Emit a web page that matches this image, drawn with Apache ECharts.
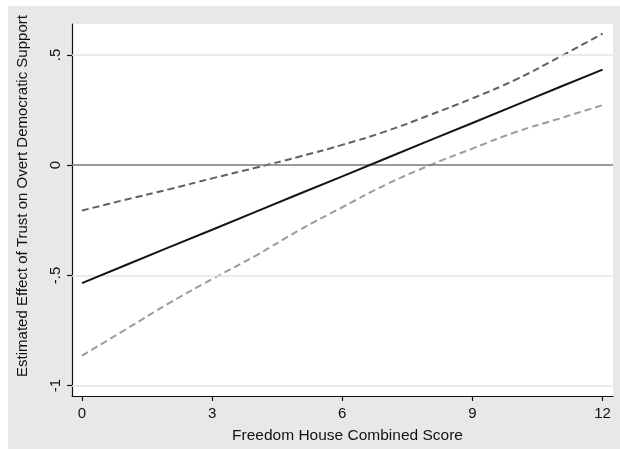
<!DOCTYPE html>
<html>
<head>
<meta charset="utf-8">
<script src="https://cdn.jsdelivr.net/npm/echarts@6/dist/echarts.min.js"></script>
<style>
html,body{margin:0;padding:0;background:#fff;}
#chart{width:620px;height:449px;}
</style>
</head>
<body>
<div id="chart"></div>
<script>
const xValues = [0,1,2,3,4,5,6,7,8,9,10,11,12];
const estimate = [-0.535,-0.454,-0.373,-0.293,-0.212,-0.131,-0.051,0.030,0.111,0.191,0.272,0.353,0.433];
const upperBound = [-0.206,-0.157,-0.110,-0.060,-0.012,0.038,0.092,0.153,0.226,0.303,0.388,0.490,0.596];
const lowerBound = [-0.864,-0.746,-0.627,-0.517,-0.411,-0.296,-0.191,-0.089,-0.002,0.075,0.150,0.211,0.272];
const xTicks = [0,3,6,9,12];
const yTickValues = [-1,-0.5,0,0.5];
const yTickLabels = ['-1','-.5','0','.5'];
const xTitle = 'Freedom House Combined Score';
const yTitle = 'Estimated Effect of Trust on Overt Democratic Support';

const pairs = arr => xValues.map((x,i)=>[x,arr[i]]);
const yLabelMap = {};
yTickValues.forEach((v,i)=>{ yLabelMap[String(v)] = yTickLabels[i]; });

const font = 'Liberation Sans, Arial, Helvetica, sans-serif';
const chart = echarts.init(document.getElementById('chart'), null, {renderer:'canvas'});
chart.setOption({
  animation:false,
  backgroundColor:'#ffffff',
  graphic:[{type:'rect', z:-10, silent:true, shape:{x:8,y:6,width:612,height:443}, style:{fill:'#e8e8e9'}}],
  grid:{left:72, top:24, right:7, bottom:53, show:true, backgroundColor:'#ffffff', borderWidth:0, containLabel:false},
  xAxis:{
    type:'value', min:-0.23, max:12.24,
    name:xTitle, nameLocation:'middle', nameGap:32,
    nameTextStyle:{fontFamily:font, fontSize:15.5, color:'#111', padding:[0,0,0,10]},
    axisLine:{show:true, onZero:false, lineStyle:{color:'#111', width:1.2}},
    axisTick:{show:true, length:5, customValues:xTicks, lineStyle:{color:'#111', width:1.2}},
    axisLabel:{customValues:xTicks, margin:10, fontFamily:font, fontSize:15, color:'#111'},
    splitLine:{show:false}
  },
  yAxis:{
    type:'value', min:-1.047, max:0.64,
    name:yTitle, nameLocation:'middle', nameGap:42, nameRotate:90,
    nameTextStyle:{fontFamily:font, fontSize:15, color:'#111', padding:[0,0,0,28]},
    axisLine:{show:true, onZero:false, lineStyle:{color:'#111', width:1.2}},
    axisTick:{show:true, length:5, customValues:yTickValues, lineStyle:{color:'#111', width:1.2}},
    axisLabel:{customValues:yTickValues, rotate:90, margin:9, fontFamily:font, fontSize:15, color:'#111',
      formatter:v=>yLabelMap[String(v)] !== undefined ? yLabelMap[String(v)] : ''},
    splitLine:{show:false}
  },
  series:[
    {type:'line', data:[], silent:true,
     markLine:{silent:true, symbol:['none','none'], label:{show:false},
       lineStyle:{color:'#e4e4e4', width:1.5, type:'solid'},
       data:yTickValues.filter(v=>v!==0).map(v=>({yAxis:v}))}},
    {type:'line', data:[], silent:true, z:3,
     markLine:{silent:true, symbol:['none','none'], label:{show:false},
       lineStyle:{color:'#7a7a7a', width:1.6, type:'solid'},
       data:[{yAxis:0}]}},
    {type:'line', name:'upper', data:pairs(upperBound), smooth:true, showSymbol:false, z:4,
     lineStyle:{color:'#616161', width:2, type:[7,4]}},
    {type:'line', name:'lower', data:pairs(lowerBound), smooth:true, showSymbol:false, z:4,
     lineStyle:{color:'#9c9c9c', width:2, type:[7,4]}},
    {type:'line', name:'estimate', data:pairs(estimate), showSymbol:false, z:5,
     lineStyle:{color:'#141414', width:2, type:'solid'}}
  ]
});
</script>
</body>
</html>
